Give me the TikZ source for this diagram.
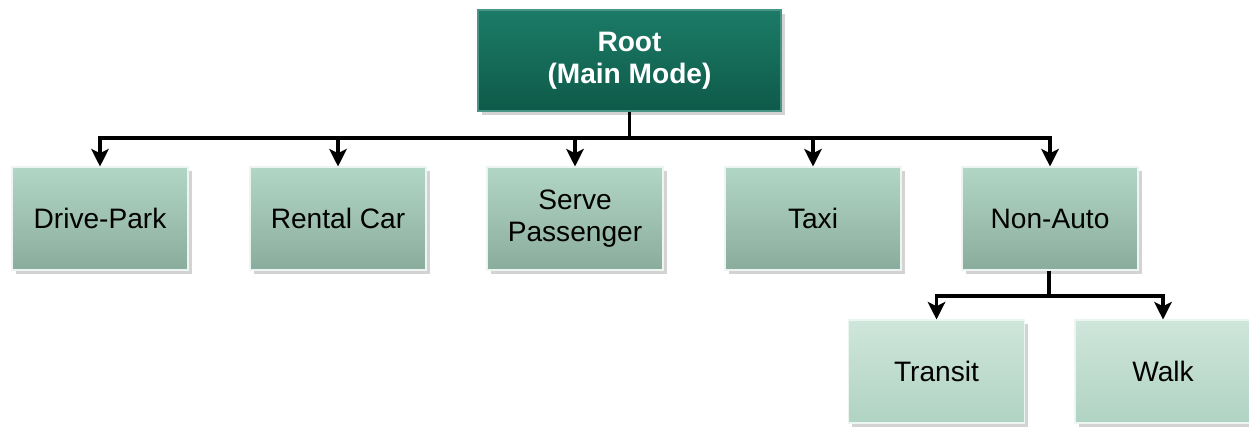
\documentclass[tikz,border=0pt]{standalone}
\usepackage{fontspec}
\setmainfont{Liberation Sans}
\usepackage{tikz}
\usetikzlibrary{positioning,calc,shadows,arrows.meta}

\definecolor{rootTop}{HTML}{1B7B66}
\definecolor{rootBot}{HTML}{0F5A4A}
\definecolor{modeTop}{HTML}{B2D6C6}
\definecolor{modeBot}{HTML}{8AAC9C}
\definecolor{subTop}{HTML}{CFE6DB}
\definecolor{subBot}{HTML}{B0D3C3}

\tikzset{
    basebox/.style={rectangle, align=center, font=\fontsize{16}{18.5}\selectfont,
        draw=white!75!modeTop, line width=0.6pt,
        drop shadow={opacity=0.35, shadow xshift=0.07, shadow yshift=-0.07}},
    rootbox/.style={basebox, draw=rootTop!80!white, minimum width=6.06cm, minimum height=2.02cm,
        top color=rootTop, bottom color=rootBot, text=white, font=\fontsize{16}{18.5}\selectfont\bfseries},
    modebox/.style={basebox, minimum width=3.52cm, minimum height=2.06cm,
        top color=modeTop, bottom color=modeBot},
    subbox/.style={basebox, minimum width=3.52cm, minimum height=2.06cm,
        top color=subTop, bottom color=subBot},
    link/.style={line width=1.9pt, -{Stealth[length=10pt,width=10pt,inset=2.5pt]}}
}

\begin{document}
\begin{tikzpicture}
    \useasboundingbox (0,0) rectangle (24.98,-8.56);

    % top of the tree
    \node [rootbox] (root) at (12.59,-1.21) {Root\\(Main Mode)};

    % main modes
    \node [modebox] (drive)   at (2.00,-4.37)  {Drive-Park};
    \node [modebox] (rental)  at (6.76,-4.37)  {Rental Car};
    \node [modebox] (serve)   at (11.50,-4.37) {Serve\\Passenger};
    \node [modebox] (taxi)    at (16.26,-4.37) {Taxi};
    \node [modebox] (nonauto) at (21.00,-4.37) {Non-Auto};

    % non-auto split
    \node [subbox] (transit) at (18.73,-7.43) {Transit};
    \node [subbox] (walk)    at (23.26,-7.43) {Walk};

    % branches from the root
    \coordinate (bus) at (12.59,-2.76);
    \draw [line width=1.9pt] (root.south) -- (bus);
    \foreach \child in {drive,rental,serve,taxi,nonauto}
        \draw [link] (bus) -| (\child.north);

    % branches from non-auto
    \coordinate (subbus) at (20.98,-5.92);
    \draw [line width=1.9pt] (nonauto.south -| subbus) -- (subbus);
    \foreach \child in {transit,walk}
        \draw [link] (subbus) -| (\child.north);
\end{tikzpicture}
\end{document}
